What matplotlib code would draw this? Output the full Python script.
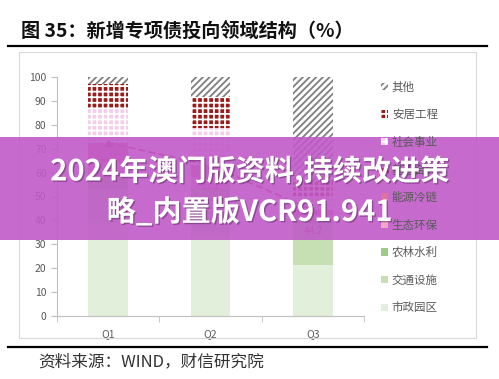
import matplotlib
matplotlib.use('Agg')
import matplotlib.pyplot as plt
import matplotlib.patheffects as pe
from matplotlib.patches import Patch, Rectangle
from matplotlib.lines import Line2D
import numpy as np

plt.rcParams['font.family'] = ['Noto Sans CJK SC', 'DejaVu Sans']
plt.rcParams['hatch.linewidth'] = 1.3

quarters = ['Q1', 'Q2', 'Q3']
shizheng = [39.0, 33.0, 21.3]     # 市政园区
jiaotong = [14.0, 15.0, 17.5]     # 交通设施
nonglin = [5.0, 5.0, 1.5]         # 农林水利
shengtai = [6.5, 5.0, 2.0]        # 生态环保
nengyuan = [8.0, 5.1, 1.9]        # 能源冷链
shehui = [14.6, 15.6, 5.8]        # 社会事业
anju = [9.9, 12.9, 6.0]           # 安居工程
qita = [3.0, 8.4, 44.0]           # 其他
jijian = [72.5, 63.1, 44.2]       # 基建合计 (line)

series = [
    ('市政园区', shizheng, '#e2efda', None, None),
    ('交通设施', jiaotong, '#c6e0b4', None, None),
    ('农林水利', nonglin, '#9fca8a', None, None),
    ('生态环保', shengtai, '#f2a7c3', None, None),
    ('能源冷链', nengyuan, '#e0739d', None, None),
    ('社会事业', shehui, '#f3cde9', 'white', '+++'),
    ('安居工程', anju, '#9b1b1b', 'white', '+++'),
    ('其他', qita, 'white', '#7f7f7f', '/////'),
]

fig = plt.figure(figsize=(4.99, 3.79), dpi=100)
ax = fig.add_axes([57/499, 1-315.7/379, 307/499, 238.4/379])

x = np.arange(len(quarters))
bottom = np.zeros(len(quarters))
handles = {}
for name, vals, fc, ec, hatch in series:
    vals = np.array(vals)
    ax.bar(x, vals, 0.39, bottom=bottom, color=fc,
           edgecolor=ec if ec else fc, hatch=hatch, linewidth=0)
    handles[name] = Patch(facecolor=fc, edgecolor=ec if ec else fc,
                          hatch=hatch, linewidth=0)
    bottom += vals

line_col = '#c2277a'
ax.plot(x, jijian, '--', color=line_col, lw=1.4, marker='^', ms=5)
for xi, v in zip(x, jijian):
    ax.annotate(f'{v:.1f}', (xi, v), xytext=(0, -15), textcoords='offset points',
                ha='center', va='center', fontsize=7, color=line_col)

ax.set_xlim(-0.5, 2.5)
ax.set_ylim(0, 100)
ax.set_yticks(range(0, 101, 10))
ax.set_xticks(x)
ax.set_xticklabels(quarters)
ax.set_xticks([-0.5, 0.5, 1.5, 2.5], minor=True)
ax.tick_params(axis='x', which='major', length=0, pad=10, labelsize=7.5, labelcolor='#595959')
ax.tick_params(axis='x', which='minor', length=4, color='#bfbfbf')
ax.tick_params(axis='y', length=4, color='#bfbfbf', labelsize=7.5, labelcolor='#595959')
for s in ['top', 'right']:
    ax.spines[s].set_visible(False)
for s in ['left', 'bottom']:
    ax.spines[s].set_color('#bfbfbf')

order = ['其他', '安居工程', '社会事业', None, '能源冷链', '生态环保', '农林水利', '交通设施', '市政园区']
leg_h, leg_l = [], []
for name in order:
    if name is None:
        leg_h.append(Line2D([], [], color=line_col, ls='--', marker='^', ms=4))
        leg_l.append('基建合计')
    else:
        leg_h.append(handles[name])
        leg_l.append(name)
fig.legend(leg_h, leg_l, loc='upper left', bbox_to_anchor=(371/499, 1-70/379),
           frameon=False, fontsize=8.3, handlelength=0.6, handleheight=0.6,
           handletextpad=0.3, labelspacing=1.27, labelcolor='#595959')

# chart frame, title rules and texts
fig.patches.append(Rectangle((19/499, 1-338/379), 457/499, 286/379, transform=fig.transFigure,
                             fill=False, edgecolor='#d9d9d9', lw=0.8))
fig.add_artist(Line2D([8/499, 487/499], [1-46/379, 1-46/379], color='black', lw=1.6))
fig.add_artist(Line2D([8/499, 487/499], [1-347/379, 1-347/379], color='black', lw=1.6))
fig.text(21/499, 1-31/379, '图 35：新增专项债投向领域结构（%）', fontsize=13.8,
         fontweight='bold', va='center', ha='left', color='#111111')
fig.text(38/499, 1-362/379, '资料来源：WIND，财信研究院', fontsize=12,
         style='italic', va='center', ha='left', color='#333333')

# overlay banner
fig.patches.append(Rectangle((0, 1-240/379), 1, 103/379, transform=fig.transFigure,
                             facecolor='#c05bc8', alpha=0.9, edgecolor='none', zorder=5))
shadow = [pe.withSimplePatchShadow(offset=(1, -1), shadow_rgbFace='#5a2a60', alpha=0.5)]
fig.text(0.5, 1-171/379, '2024年澳门版资料,持续改进策', fontsize=21, fontweight='bold',
         color='white', ha='center', va='center', zorder=6, path_effects=shadow)
fig.text(0.5, 1-212/379, '略_内置版VCR91.941', fontsize=21, fontweight='bold',
         color='white', ha='center', va='center', zorder=6, path_effects=shadow)

fig.savefig('out.png', dpi=100)
